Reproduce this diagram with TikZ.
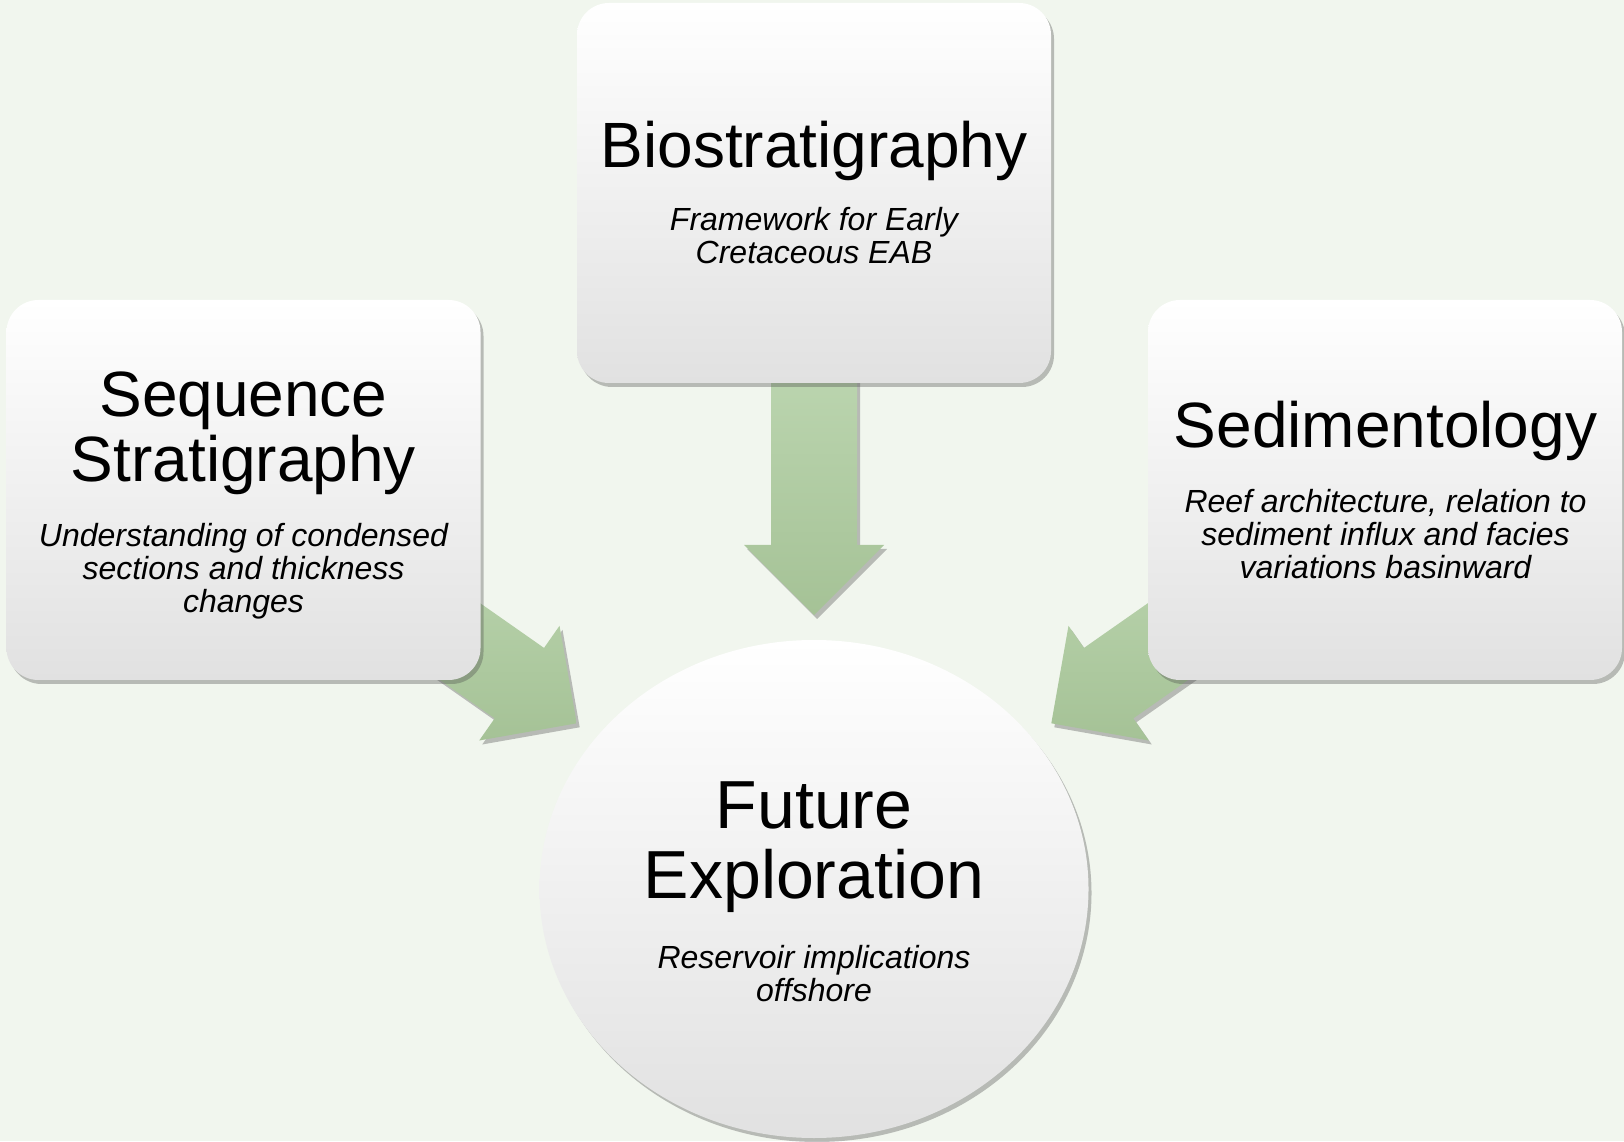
\documentclass[tikz,border=0pt]{standalone}
\usepackage{fontspec}
\setmainfont{Liberation Sans}
\usetikzlibrary{shapes.geometric,shadows,calc}
\definecolor{bg}{RGB}{241,246,238}
\definecolor{arrtop}{RGB}{187,213,175}
\definecolor{arrbot}{RGB}{165,194,150}
\definecolor{boxbot}{RGB}{225,225,225}
\tikzset{
  softshadow/.style={drop shadow={shadow xshift=3pt,shadow yshift=-4pt,opacity=0.35,fill=black!70}},
  panel/.style={rectangle, rounded corners=32pt, minimum width=474pt, minimum height=380pt,
    inner sep=0pt, top color=white, middle color=white, bottom color=boxbot, softshadow},
  hub/.style={ellipse, minimum width=549pt, minimum height=498pt, inner sep=0pt,
    top color=white, middle color=white!98!black, bottom color=boxbot, softshadow},
  titletext/.style={font=\fontsize{64}{65}\selectfont, align=center, anchor=base, inner sep=0pt},
  bigtitle/.style={font=\fontsize{68}{70}\selectfont, align=center, anchor=base, inner sep=0pt},
  subtext/.style={font=\fontsize{32}{33}\selectfont\itshape, align=center, anchor=base, inner sep=0pt},
  flow/.style={top color=arrtop, bottom color=arrbot, softshadow}
}
% #1 tip coordinate, #2 direction angle, #3 shaft length
\newcommand{\blockarrow}[3]{%
  \path[flow] (#1)
    -- ($(#1)+(#2+180:70)+(#2+90:70)$)
    -- ($(#1)+(#2+180:70)+(#2+90:43)$)
    -- ($(#1)+(#2+180:#3)+(#2+90:43)$)
    -- ($(#1)+(#2+180:#3)+(#2-90:43)$)
    -- ($(#1)+(#2+180:70)+(#2-90:43)$)
    -- ($(#1)+(#2+180:70)+(#2-90:70)$)
    -- cycle;}
\begin{document}
\begin{tikzpicture}[x=1pt,y=1pt]
  \fill[bg] (0,0) rectangle (1624,1141);
  \useasboundingbox (0,0) rectangle (1624,1141);

  % target hub
  \node[hub] (fut) at (814,252) {};
  % arrow tips (free ends near the hub)
  \coordinate (tipB) at (814,526);
  \coordinate (tipL) at (576.7,417.7);
  \coordinate (tipR) at (1051.3,417.7);

  % arrows (under the panels)
  \blockarrow{tipB}{-90}{245}
  \blockarrow{tipL}{-35}{260}
  \blockarrow{tipR}{-145}{260}

  % panels
  \node[panel] (seq) at (243.5,651) {};
  \node[panel] (bio) at (814,948) {};
  \node[panel] (sed) at (1385,651) {};

  % texts (anchor = baseline of the last line)
  \node[titletext] (seqT) at (243.5,659.4) {Sequence\\Stratigraphy};
  \node[subtext] (seqS) at (243.5,528.2) {Understanding of condensed\\sections and thickness\\changes};

  \node[titletext] (bioT) at (814,973.2) {Biostratigraphy};
  \node[subtext] (bioS) at (814,877) {Framework for Early\\Cretaceous EAB};

  \node[titletext] (sedT) at (1385.5,693.6) {Sedimentology};
  \node[subtext] (sedS) at (1385.5,562.3) {Reef architecture, relation to\\sediment influx and facies\\variations basinward};

  \node[bigtitle] (futT) at (814,242.4) {Future\\Exploration};
  \node[subtext] (futS) at (814,140) {Reservoir implications\\offshore};
\end{tikzpicture}
\end{document}
